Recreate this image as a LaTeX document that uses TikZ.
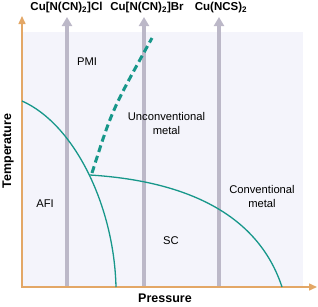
\documentclass[tikz,border=0pt]{standalone}
\usepackage{fontspec}
\setmainfont{Liberation Sans}
\usetikzlibrary{arrows.meta}
\definecolor{fond}{HTML}{F4F4FB}
\definecolor{gris}{HTML}{BCB8C8}
\definecolor{axe}{HTML}{E3A766}
\definecolor{sarcelle}{HTML}{17978A}
\tikzset{
	sel/.style={font=\fontsize{11.5}{13}\selectfont\bfseries},
	zone/.style={font=\fontsize{11.2}{14}\selectfont, align=center, inner sep=0pt},
	pression/.style={draw=gris, line width=3.6pt, -{Triangle[length=9pt,width=10pt]}},
	frontiere/.style={draw=sarcelle, line width=1.3pt},
}
\begin{document}
\begin{tikzpicture}[x=1pt,y=-1pt]
		\useasboundingbox (0,0) rectangle (318,306);
		\fill[fond] (22,32) rectangle (303,287);
		\draw[pression] (67,287)--(67,17);
		\draw[pression] (144,287)--(144,17);
		\draw[pression] (219,287)--(219,17);
		\draw[axe, line width=1.5pt, {Triangle[length=8pt,width=7pt]}-{Triangle[length=8pt,width=7pt]}] (22,16)--(22,287)--(317,287);
		%frontieres
		\draw[frontiere] (22,101) .. controls (74,124) and (114,205) .. (116,287);
		\draw[frontiere] (90,175) .. controls (170,180) and (255,205) .. (282,287);
		\draw[sarcelle, line width=3pt, dash pattern=on 7pt off 4pt] (92,173) .. controls (112,110) .. (152,38);
		%décorations
		\node[sel] (cl) at (66.5,8) {Cu[N(CN)\textsubscript{2}]Cl};
		\node[sel] (br) at (147,8) {Cu[N(CN)\textsubscript{2}]Br};
		\node[sel] (ncs) at (221,8) {Cu(NCS)\textsubscript{2}};
		\node[zone] (pmi) at (87,62) {PMI};
		\node[zone] (mnc) at (166.5,123) {Unconventional\\metal};
		\node[zone] (mc) at (262,196) {Conventional\\metal};
		\node[zone] (afi) at (45,204) {AFI};
		\node[zone] (sc) at (171,241) {SC};
		\node[sel, font=\fontsize{12.5}{14}\selectfont\bfseries] (p) at (165,298) {Pressure};
		\node[sel, font=\fontsize{12.5}{14}\selectfont\bfseries, rotate=90] (t) at (8,151) {Temperature};
	\end{tikzpicture}
\end{document}
